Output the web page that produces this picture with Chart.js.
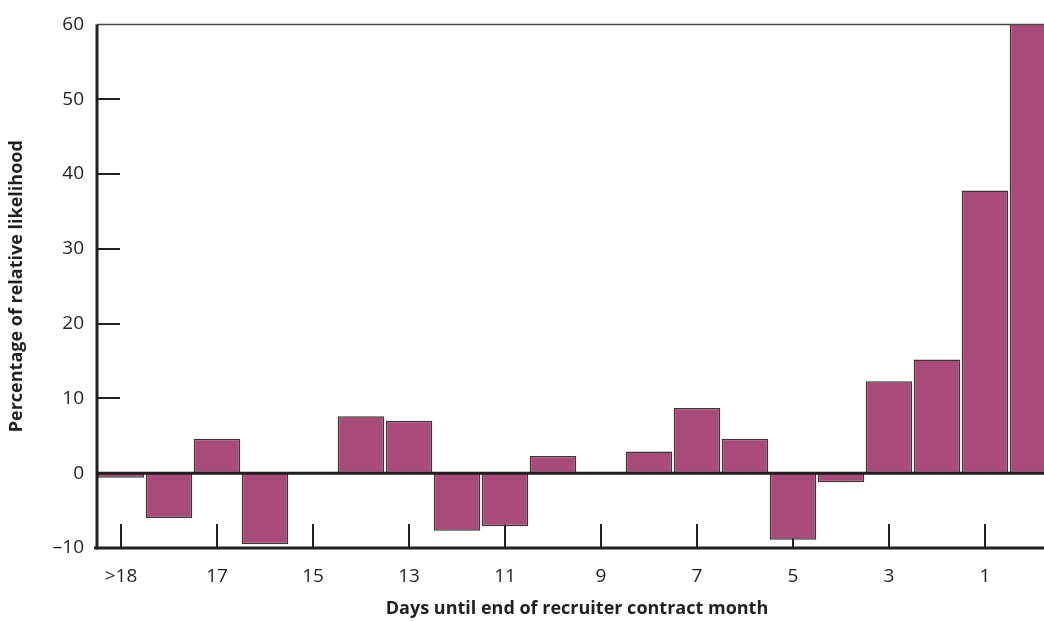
<!DOCTYPE html>
<html>
<head>
<meta charset="utf-8">
<script src="https://cdn.jsdelivr.net/npm/chart.js@4.4.1/dist/chart.umd.min.js"></script>
<style>
html,body{margin:0;padding:0;background:#fff;overflow:hidden;width:1044px;height:621px;}
#wrap{width:1057px;height:621px;position:relative;}
</style>
</head>
<body>
<div id="wrap"><canvas id="c"></canvas></div>
<script>
const categories = ['>18','18','17','16','15','14','13','12','11','10','9','8','7','6','5','4','3','2','1','0'];
const values = [-0.6,-6.0,4.6,-9.5,0,7.6,7.0,-7.7,-7.1,2.3,-0.15,2.9,8.7,4.6,-8.9,-1.2,12.3,15.2,37.8,63];
const xTickLabels = ['>18','17','15','13','11','9','7','5','3','1'];
const yTicks = [-10,0,10,20,30,40,50,60];

const ink = '#231f20';
const fontFam = '"Open Sans", "Noto Sans", sans-serif';

const axesPlugin = {
  id: 'axesPlugin',
  beforeDatasetsDraw(chart) {
    const {ctx, chartArea: a, scales: {x, y}} = chart;
    ctx.save();
    ctx.strokeStyle = ink;
    ctx.lineWidth = 2;
    categories.forEach((c, i) => {
      if (!xTickLabels.includes(c)) return;
      const px = x.getPixelForValue(i);
      ctx.beginPath();
      ctx.moveTo(px, a.bottom);
      ctx.lineTo(px, a.bottom - 24);
      ctx.stroke();
    });
    ctx.restore();
  },
  afterDatasetsDraw(chart) {
    const {ctx, chartArea: a, scales: {x, y}} = chart;
    ctx.save();
    ctx.strokeStyle = ink;
    ctx.lineWidth = 2;
    yTicks.forEach(v => {
      if (v <= 0 || v >= 60) return;
      const py = Math.round(y.getPixelForValue(v));
      ctx.beginPath();
      ctx.moveTo(a.left, py);
      ctx.lineTo(a.left + 23, py);
      ctx.stroke();
    });
    ctx.strokeStyle = '#4a4a4a';
    ctx.lineWidth = 1.5;
    ctx.beginPath();
    ctx.moveTo(a.left, a.top);
    ctx.lineTo(chart.width, a.top);
    ctx.stroke();
    ctx.strokeStyle = ink;
    ctx.lineWidth = 3;
    const y0 = y.getPixelForValue(0);
    ctx.beginPath();
    ctx.moveTo(a.left, y0);
    ctx.lineTo(chart.width, y0);
    ctx.stroke();
    ctx.beginPath();
    ctx.moveTo(a.left - 3, a.bottom);
    ctx.lineTo(chart.width, a.bottom);
    ctx.stroke();
    ctx.beginPath();
    ctx.moveTo(a.left, a.top);
    ctx.lineTo(a.left, a.bottom + 1.5);
    ctx.stroke();
    ctx.restore();
  }
};

new Chart(document.getElementById('c'), {
  type: 'bar',
  data: {
    labels: categories,
    datasets: [{
      data: values,
      backgroundColor: '#a84a7a',
      borderColor: '#3b3536',
      borderWidth: 1.5,
      borderSkipped: false,
      barPercentage: 0.97,
      categoryPercentage: 1.0
    }]
  },
  options: {
    responsive: true,
    maintainAspectRatio: false,
    animation: false,
    devicePixelRatio: 1,
    layout: {padding: {top: 23, right: 0, left: 0, bottom: 0}},
    plugins: {legend: {display: false}, tooltip: {enabled: false}},
    scales: {
      x: {
        type: 'category',
        offset: true,
        grid: {display: false, drawTicks: false},
        border: {display: false},
        ticks: {
          autoSkip: false,
          maxRotation: 0,
          padding: 17,
          color: ink,
          font: {family: fontFam, size: 19},
          callback: function(v, i) { const l = categories[i]; return xTickLabels.includes(l) ? l : ''; }
        },
        title: {
          display: true,
          text: 'Days until end of recruiter contract month',
          color: ink,
          font: {family: fontFam, size: 18, weight: 'bold'},
          padding: {top: 0, bottom: 1}
        },
        afterFit: s => { s.height = 73; }
      },
      y: {
        min: -10,
        max: 60,
        afterBuildTicks: s => { s.ticks = yTicks.map(v => ({value: v})); },
        grid: {display: false, drawTicks: false},
        border: {display: false},
        ticks: {
          padding: 13,
          color: ink,
          font: {family: fontFam, size: 19},
          callback: v => v < 0 ? '\u2013' + Math.abs(v) : String(v)
        },
        title: {
          display: true,
          text: 'Percentage of relative likelihood',
          color: ink,
          font: {family: fontFam, size: 18, weight: 'bold'},
          padding: {top: 6, bottom: 0}
        },
        afterFit: s => { s.width = 97; }
      }
    }
  },
  plugins: [axesPlugin]
});
</script>
</body>
</html>
